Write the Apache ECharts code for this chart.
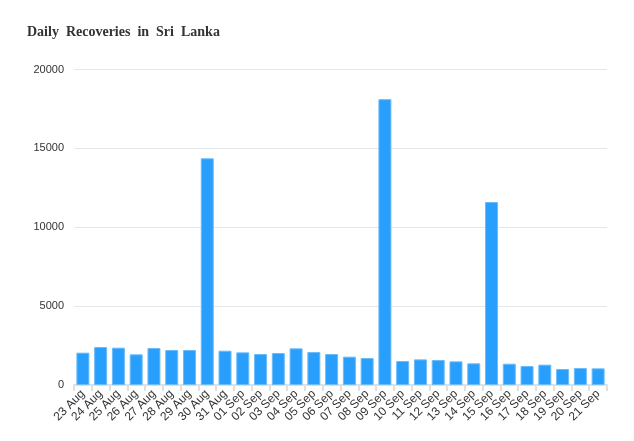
<!DOCTYPE html>
<html>
<head>
<meta charset="utf-8">
<script src="https://cdn.jsdelivr.net/npm/echarts@6/dist/echarts.min.js"></script>
<style>html,body{margin:0;padding:0;background:#fff}#c{width:634px;height:441px}</style>
</head>
<body>
<div id="c"></div>
<script>
const categories = ['23 Aug','24 Aug','25 Aug','26 Aug','27 Aug','28 Aug','29 Aug','30 Aug','31 Aug',
  '01 Sep','02 Sep','03 Sep','04 Sep','05 Sep','06 Sep','07 Sep','08 Sep','09 Sep','10 Sep','11 Sep',
  '12 Sep','13 Sep','14 Sep','15 Sep','16 Sep','17 Sep','18 Sep','19 Sep','20 Sep','21 Sep'];
const recoveries = [2050,2410,2365,1945,2345,2220,2220,14370,2175,2070,1965,2030,2325,2090,1965,
  1795,1710,18120,1520,1625,1585,1500,1375,11600,1350,1205,1290,1015,1075,1055];
const yTicks = [0,5000,10000,15000,20000];

const chart = echarts.init(document.getElementById('c'));
chart.setOption({
  animation:false,
  title:{text:'Daily  Recoveries  in  Sri  Lanka', left:22, top:20,
    textStyle:{fontFamily:'Liberation Serif', fontWeight:'bold', fontSize:14, color:'#333'}},
  grid:{left:74, right:27, top:69.5, bottom:56},
  xAxis:{type:'category', data:categories,
    axisLine:{lineStyle:{color:'#e0e0e0', width:2}},
    axisTick:{show:true, length:6, lineStyle:{color:'#e0e0e0', width:2}},
    axisLabel:{rotate:45, fontSize:12, color:'#333', margin:7, interval:0, fontFamily:'Liberation Sans'}},
  yAxis:{type:'value', min:yTicks[0], max:yTicks[yTicks.length-1], interval:5000,
    axisLine:{show:false}, axisTick:{show:false},
    axisLabel:{fontSize:11, color:'#333', margin:10, fontFamily:'Liberation Sans', formatter:v=>String(v)},
    splitLine:{lineStyle:{color:'#e6e6e6', width:1}}},
  series:[{type:'bar', data:recoveries, barWidth:13,
    itemStyle:{color:'#299ffd', borderColor:'#6cbcf8', borderWidth:1}}]
});
</script>
</body>
</html>
